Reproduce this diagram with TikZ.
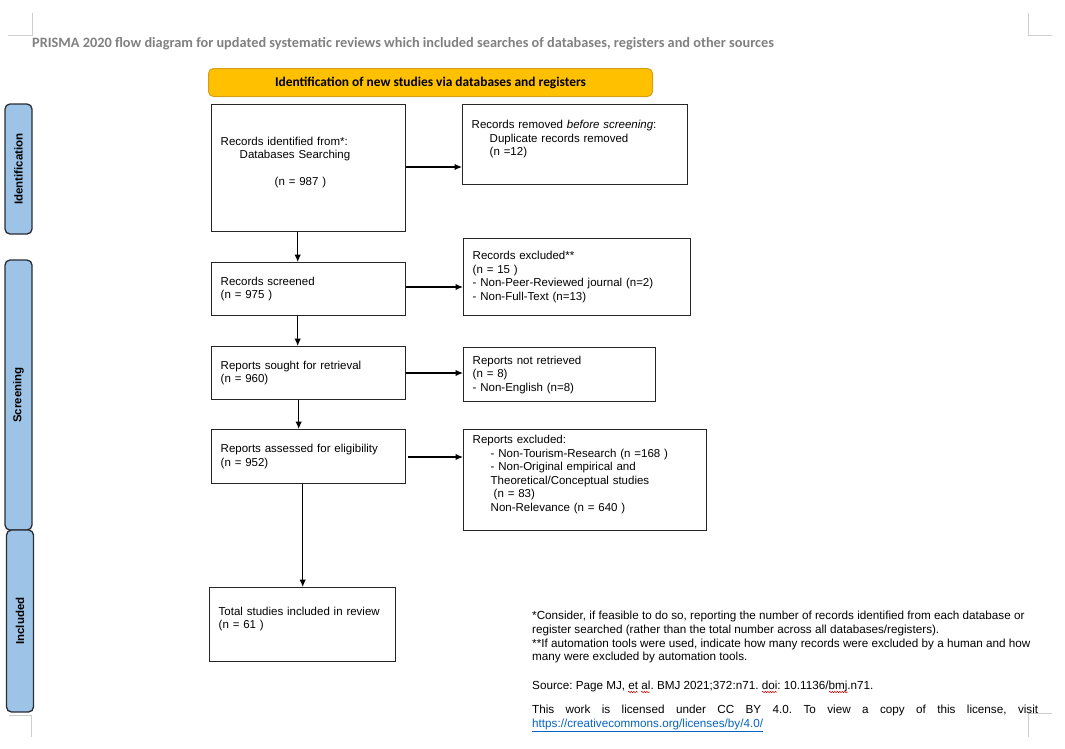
\documentclass[tikz,border=0pt]{standalone}
\usepackage{fontspec}
\setmainfont{Liberation Sans}
\newfontfamily\calibri{Carlito}
\usepackage{tikz}
\usetikzlibrary{shapes,arrows.meta,decorations.pathmorphing}
\frenchspacing
\definecolor{barblue}{RGB}{157,195,230}
\definecolor{bardraw}{RGB}{40,44,52}
\definecolor{headfill}{RGB}{255,192,0}
\definecolor{headdraw}{RGB}{212,160,23}
\definecolor{titlegray}{RGB}{128,128,128}
\definecolor{markgray}{RGB}{205,205,205}
\definecolor{linkblue}{RGB}{5,99,193}
\tikzstyle{block} = [rectangle, draw=black!85, line width=1.4pt, anchor=north west,
    inner xsep=9pt, inner ysep=0pt, align=left, font=\fontsize{11.5}{13.5}\selectfont]
\tikzstyle{phase} = [rectangle, draw=bardraw, fill=barblue, line width=1.3pt,
    rounded corners=5pt, rotate=90, minimum height=27pt, inner sep=0pt,
    font=\bfseries\fontsize{11.5}{13}\selectfont]
\tikzstyle{header} = [rectangle, draw=headdraw, fill=headfill, line width=1pt,
    rounded corners=5pt, anchor=north west, minimum width=444pt, minimum height=28pt,
    font=\calibri\bfseries\fontsize{13.4}{15}\selectfont]
\tikzstyle{note} = [anchor=north west, inner sep=0pt, align=left,
    font=\fontsize{11.7}{13.7}\selectfont]
\tikzstyle{line} = [draw, line width=1.2pt, -{Latex[length=7.5pt,width=6.5pt]}]
\tikzstyle{cropmark} = [draw=markgray, line width=0.8pt]
\tikzstyle{spell} = [draw=red!80!black, line width=0.5pt,
    decorate, decoration={snake, amplitude=0.7pt, segment length=2.5pt}]

\begin{document}
\begin{tikzpicture}[x=1pt, y=-1pt]
    \useasboundingbox (0,0) rectangle (1065,748);
    % Page corners
    \path [cropmark] (8,35) -- (32,35) -- (32,13);
    \path [cropmark] (1052,35) -- (1028,35) -- (1028,13);
    \path [cropmark] (9,715) -- (31,715) -- (31,737);
    \path [cropmark] (1052,713) -- (1028,713) -- (1028,737);
    % Title and header
    \node [anchor=west, inner sep=0pt, text=titlegray,
        font=\calibri\bfseries\fontsize{14.3}{16}\selectfont] (title) at (32,44)
        {PRISMA 2020 flow diagram for updated systematic reviews which included searches of databases, registers and other sources};
    \node [header] (head) at (208,68) {Identification of new studies via databases and registers};
    % Phase bars
    \node [phase, minimum width=130pt] (identification) at (18.5,169) {Identification};
    \node [phase, minimum width=270pt] (screening) at (18.5,395) {Screening};
    \node [phase, minimum width=182pt] (included) at (20,621) {Included};
    % Place nodes
    \node [block, text width=176pt, minimum height=127pt] (identified) at (211,104)
        {Records identified from*:\\ \hspace*{19pt}Databases Searching\\ \mbox{}\\ \hspace*{54pt}(n = 987 )\\ \mbox{}};
    \node [block, text width=207pt, minimum height=80pt] (removed) at (462,104)
        {Records removed \textit{before screening}:\\ \hspace*{18pt}Duplicate records removed\\ \hspace*{18pt}(n =12)\\ \mbox{}};
    \node [block, text width=176pt, minimum height=53pt] (screened) at (211,262)
        {Records screened\\(n = 975 )};
    \node [block, text width=209pt, minimum height=77pt] (excluded) at (463,238)
        {Records excluded**\\(n = 15 )\\- Non-Peer-Reviewed journal (n=2)\\- Non-Full-Text (n=13)};
    \node [block, text width=176pt, minimum height=53pt] (sought) at (211,346)
        {Reports sought for retrieval\\(n = 960)};
    \node [block, text width=174pt, minimum height=54pt] (notretrieved) at (463,347)
        {Reports not retrieved\\(n = 8)\\- Non-English (n=8)};
    \node [block, text width=176pt, minimum height=54pt] (assessed) at (211,429)
        {Reports assessed for eligibility\\(n = 952)};
    \node [block, text width=225pt, minimum height=101pt] (repexcluded) at (463,429)
        {Reports excluded:\\ \hspace*{18pt}- Non-Tourism-Research (n =168 )\\ \hspace*{18pt}- Non-Original empirical and\\ \hspace*{18pt}Theoretical/Conceptual studies\\ \hspace*{21pt}(n = 83)\\ \hspace*{18pt}Non-Relevance (n = 640 )\\ \mbox{}};
    \node [block, text width=168pt, minimum height=74pt] (total) at (209,587)
        {Total studies included in review\\(n = 61 )\\ \mbox{}};
    % Notes
    \node [note] (notes) at (532,611)
        {*Consider, if feasible to do so, reporting the number of records identified from each database or\\
        register searched (rather than the total number across all databases/registers).\\
        **If automation tools were used, indicate how many records were excluded by a human and how\\
        many were excluded by automation tools.};
    \node [note] (source) at (532,681) {Source: Page MJ, et al. BMJ 2021;372:n71. doi: 10.1136/bmj.n71.};
    \node [note, text width=506pt, align=justify] (license) at (532,705)
        {This work is licensed under CC BY 4.0. To view a copy of this license, visit\linebreak
        \textcolor{linkblue}{\underline{https://creativecommons.org/licenses/by/4.0/}}};
    % spelling marks under the source line
    \path [spell] (628,692) -- (638,692);
    \path [spell] (641,692) -- (650,692);
    \path [spell] (762,692) -- (777,692);
    \path [spell] (829,692) -- (848,692);
    % Draw edges
    \path [line] (identified.east |- 0,167) -- (removed.west |- 0,167);
    \path [line] ([xshift=-11pt]identified.south) -- ([xshift=-11pt]screened.north);
    \path [line] (screened.east |- 0,287) -- (excluded.west |- 0,287);
    \path [line] ([xshift=-11pt]screened.south) -- ([xshift=-11pt]sought.north);
    \path [line] (sought.east |- 0,373) -- (notretrieved.west |- 0,373);
    \path [line] ([xshift=-10pt]sought.south) -- ([xshift=-10pt]assessed.north);
    \path [line] ([xshift=2pt]assessed.east |- 0,457) -- (repexcluded.west |- 0,457);
    \path [line] ([xshift=-6pt]assessed.south) -- (total.north);
\end{tikzpicture}
\end{document}
